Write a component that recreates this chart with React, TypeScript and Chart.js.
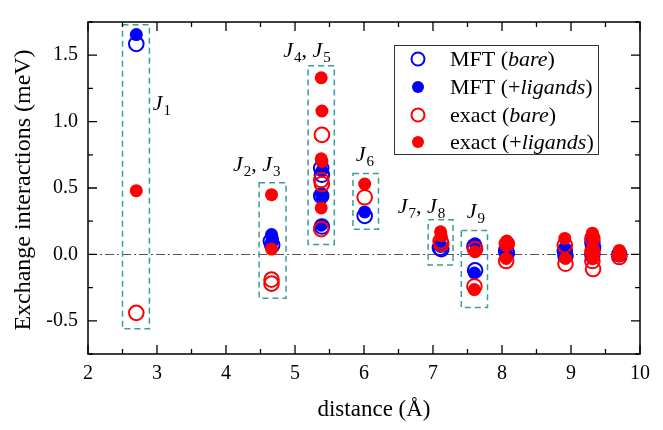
import React, { useEffect, useRef } from "react";
import { Chart, registerables } from "chart.js";
Chart.register(...registerables);

// ---- data (distance in Å, exchange in meV) ----
const mftBareX = [2.70, 4.65, 4.67, 5.38, 5.39, 5.38, 5.39, 6.01, 7.10, 7.12, 7.60, 7.61, 8.06, 8.07, 8.91, 8.92, 9.31, 9.32, 9.31, 9.70];
const mftBareY = [1.585, 0.10, 0.07, 0.65, 0.60, 0.44, 0.21, 0.29, 0.05, 0.04, 0.06, -0.12, 0.03, 0.01, 0.03, -0.01, 0.09, 0.05, 0.0, 0.0];

const mftLigX = [2.70, 4.66, 4.67, 4.66, 5.39, 5.38, 5.39, 5.38, 6.01, 7.11, 7.11, 7.61, 7.60, 8.07, 8.06, 8.91, 8.92, 9.31, 9.32, 9.31, 9.70];
const mftLigY = [1.655, 0.15, 0.12, 0.09, 0.63, 0.46, 0.43, 0.22, 0.32, 0.07, 0.06, 0.08, -0.14, 0.05, 0.0, 0.04, 0.0, 0.11, 0.06, -0.03, 0.01];

const exactBareX = [2.70, 4.66, 4.66, 5.39, 5.38, 5.39, 5.38, 6.01, 7.11, 7.12, 7.61, 7.60, 8.07, 8.06, 8.91, 8.92, 9.31, 9.31, 9.32, 9.31, 9.70];
const exactBareY = [-0.44, -0.19, -0.22, 0.90, 0.56, 0.53, 0.19, 0.43, 0.10, 0.08, 0.04, -0.24, 0.08, -0.05, 0.07, -0.07, 0.12, 0.02, -0.11, -0.05, -0.02];

const exactLigX = [2.70, 4.66, 4.66, 5.38, 5.39, 5.38, 5.39, 5.38, 6.01, 7.11, 7.12, 7.61, 7.60, 8.07, 8.07, 8.06, 8.91, 8.92, 9.31, 9.32, 9.31, 9.31, 9.32, 9.31, 9.70, 9.70, 9.71];
const exactLigY = [0.48, 0.45, 0.04, 1.33, 1.08, 0.72, 0.70, 0.35, 0.53, 0.17, 0.14, 0.02, -0.265, 0.10, 0.08, -0.03, 0.12, -0.03, 0.16, 0.13, 0.05, 0.0, -0.03, 0.02, 0.03, -0.01, 0.01];

// dashed group boxes: [xMin, xMax, yMin, yMax]
const boxXMin = [2.50, 4.48, 5.19, 5.84, 6.93, 7.41];
const boxXMax = [2.89, 4.87, 5.57, 6.21, 7.29, 7.79];
const boxYMin = [-0.56, -0.33, 0.075, 0.19, -0.08, -0.40];
const boxYMax = [1.73, 0.54, 1.42, 0.61, 0.26, 0.18];

// group labels: subscripts and anchor (data coords)
const labelSubs = [["1"], ["2", "3"], ["4", "5"], ["6"], ["7", "8"], ["9"]];
const labelX = [2.94, 4.10, 4.83, 5.88, 6.49, 7.49];
const labelY = [1.085, 0.626, 1.49, 0.70, 0.313, 0.277];

const xTicks = [2, 3, 4, 5, 6, 7, 8, 9, 10];
const yTicks = [-0.5, 0, 0.5, 1.0, 1.5];

const legendLabels = [
  [["MFT (", false], ["bare", true], [")", false]],
  [["MFT (+", false], ["ligands", true], [")", false]],
  [["exact (", false], ["bare", true], [")", false]],
  [["exact (+", false], ["ligands", true], [")", false]],
] as [string, boolean][][];

const BLUE = "#0000ff";
const RED = "#ff0000";
const SERIF = "'Liberation Serif', 'Times New Roman', serif";

function pts(xs: number[], ys: number[]) {
  return xs.map((x, i) => ({ x, y: ys[i] }));
}

function drawJ(ctx: CanvasRenderingContext2D, x: number, y: number, subs: string[]) {
  let cx = x;
  subs.forEach((s, i) => {
    if (i > 0) {
      ctx.font = `22px ${SERIF}`;
      ctx.fillText(", ", cx, y);
      cx += ctx.measureText(", ").width;
    }
    ctx.font = `italic 22px ${SERIF}`;
    ctx.fillText("J", cx, y);
    cx += ctx.measureText("J").width + 1;
    ctx.font = `15px ${SERIF}`;
    ctx.fillText(s, cx, y + 5);
    cx += ctx.measureText(s).width;
  });
}

const overlay = {
  id: "overlay",
  beforeDatasetsDraw(chart: any) {
    const { ctx, chartArea: a, scales } = chart;
    const xs = scales.x, ys = scales.y;
    ctx.save();
    ctx.strokeStyle = "#555";
    ctx.lineWidth = 1.2;
    ctx.setLineDash([9, 3, 2, 3]);
    const y0 = Math.round(ys.getPixelForValue(0)) + 0.5;
    ctx.beginPath();
    ctx.moveTo(a.left, y0);
    ctx.lineTo(a.right, y0);
    ctx.stroke();
    ctx.strokeStyle = "#3a9c9c";
    ctx.lineWidth = 1.5;
    ctx.setLineDash([6, 4]);
    boxXMin.forEach((_, i) => {
      const l = xs.getPixelForValue(boxXMin[i]);
      const r = xs.getPixelForValue(boxXMax[i]);
      const t = ys.getPixelForValue(boxYMax[i]);
      const b = ys.getPixelForValue(boxYMin[i]);
      ctx.strokeRect(l, t, r - l, b - t);
    });
    ctx.restore();
  },
  afterDraw(chart: any) {
    const { ctx, chartArea: a, scales } = chart;
    const xs = scales.x, ys = scales.y;
    ctx.save();
    ctx.setLineDash([]);
    ctx.strokeStyle = "#000";
    ctx.lineWidth = 1.5;
    ctx.strokeRect(a.left, a.top, a.right - a.left, a.bottom - a.top);
    ctx.lineWidth = 1.3;
    ctx.beginPath();
    for (let v = 2; v <= 10.001; v += 0.5) {
      const p = xs.getPixelForValue(v);
      const len = Math.abs(v - Math.round(v)) < 1e-6 ? 9 : 5;
      ctx.moveTo(p, a.bottom); ctx.lineTo(p, a.bottom - len);
      ctx.moveTo(p, a.top); ctx.lineTo(p, a.top + len);
    }
    for (let v = -0.75; v <= 1.751; v += 0.25) {
      const p = ys.getPixelForValue(v);
      const major = Math.abs(v * 2 - Math.round(v * 2)) < 1e-6;
      const len = major ? 9 : 5;
      ctx.moveTo(a.left, p); ctx.lineTo(a.left + len, p);
      ctx.moveTo(a.right, p); ctx.lineTo(a.right - len, p);
    }
    ctx.stroke();

    ctx.fillStyle = "#000";
    ctx.textBaseline = "alphabetic";
    ctx.textAlign = "left";
    labelSubs.forEach((subs, i) => {
      drawJ(ctx, xs.getPixelForValue(labelX[i]), ys.getPixelForValue(labelY[i]), subs);
    });

    // legend
    const lx = 394, ly = 45, lw = 204, lh = 109;
    ctx.fillStyle = "#fff";
    ctx.fillRect(lx, ly, lw, lh);
    ctx.strokeStyle = "#333";
    ctx.lineWidth = 1;
    ctx.strokeRect(lx + 0.5, ly + 0.5, lw, lh);
    const rowsY = [59, 87, 115, 142];
    const styles = [[BLUE, false], [BLUE, true], [RED, false], [RED, true]] as [string, boolean][];
    rowsY.forEach((ry, i) => {
      const [col, filled] = styles[i];
      ctx.beginPath();
      if (filled) {
        ctx.fillStyle = col;
        ctx.arc(418, ry, 6, 0, Math.PI * 2);
        ctx.fill();
      } else {
        ctx.strokeStyle = col;
        ctx.lineWidth = 2;
        ctx.arc(418, ry, 6.5, 0, Math.PI * 2);
        ctx.stroke();
      }
      let tx = 450;
      ctx.fillStyle = "#000";
      ctx.textBaseline = "middle";
      legendLabels[i].forEach(([t, it]) => {
        ctx.font = `${it ? "italic " : ""}22px ${SERIF}`;
        ctx.fillText(t, tx, ry + 1);
        tx += ctx.measureText(t).width;
      });
    });

    // axis titles
    ctx.fillStyle = "#000";
    ctx.textAlign = "center";
    ctx.textBaseline = "middle";
    ctx.font = `23px ${SERIF}`;
    ctx.fillText("distance (Å)", 374, 410);
    ctx.font = `24px ${SERIF}`;
    ctx.translate(24, 190);
    ctx.rotate(-Math.PI / 2);
    ctx.fillText("Exchange interactions (meV)", 0, 0);
    ctx.restore();
  },
};

export default function App() {
  const ref = useRef<HTMLCanvasElement>(null);
  useEffect(() => {
    document.body.style.margin = "0";
    const ds = (label: string, xs: number[], ys: number[], color: string, filled: boolean, order: number) => ({
      label,
      data: pts(xs, ys),
      order,
      pointRadius: filled ? 6.5 : 7.3,
      pointHoverRadius: filled ? 6.5 : 7.3,
      pointBorderWidth: filled ? 0 : 2,
      pointBackgroundColor: filled ? color : "rgba(255,255,255,0)",
      pointBorderColor: color,
      backgroundColor: filled ? color : "rgba(255,255,255,0)",
      borderColor: color,
      showLine: false,
    });
    const chart = new Chart(ref.current!, {
      type: "scatter",
      data: {
        datasets: [
          ds("exact (+ligands)", exactLigX, exactLigY, RED, true, 0),
          ds("exact (bare)", exactBareX, exactBareY, RED, false, 1),
          ds("MFT (+ligands)", mftLigX, mftLigY, BLUE, true, 2),
          ds("MFT (bare)", mftBareX, mftBareY, BLUE, false, 3),
        ] as any,
      },
      options: {
        animation: false,
        responsive: false,
        events: [],
        layout: { padding: { left: 0, top: 11, right: 23, bottom: 0 } },
        plugins: { legend: { display: false }, tooltip: { enabled: false } },
        scales: {
          x: {
            type: "linear",
            min: 2,
            max: 10,
            grid: { display: false, drawTicks: false },
            border: { display: false },
            afterBuildTicks: (s: any) => { s.ticks = xTicks.map((v) => ({ value: v })); },
            afterFit: (s: any) => { s.height = 76; },
            ticks: {
              padding: 8,
              color: "#000",
              font: { family: SERIF, size: 20 },
              callback: (v: any) => String(v),
            },
          },
          y: {
            type: "linear",
            min: -0.75,
            max: 1.75,
            grid: { display: false, drawTicks: false },
            border: { display: false },
            afterBuildTicks: (s: any) => { s.ticks = yTicks.map((v) => ({ value: v })); },
            afterFit: (s: any) => { s.width = 88; },
            ticks: {
              padding: 10,
              color: "#000",
              font: { family: SERIF, size: 20 },
              callback: (v: any) => Number(v).toFixed(1),
            },
          },
        },
      },
      plugins: [overlay],
    });
    return () => chart.destroy();
  }, []);
  return (
    <div style={{ position: "absolute", left: 0, top: 0, width: 663, height: 430, background: "#fff" }}>
      <canvas ref={ref} width={663} height={430} />
    </div>
  );
}
